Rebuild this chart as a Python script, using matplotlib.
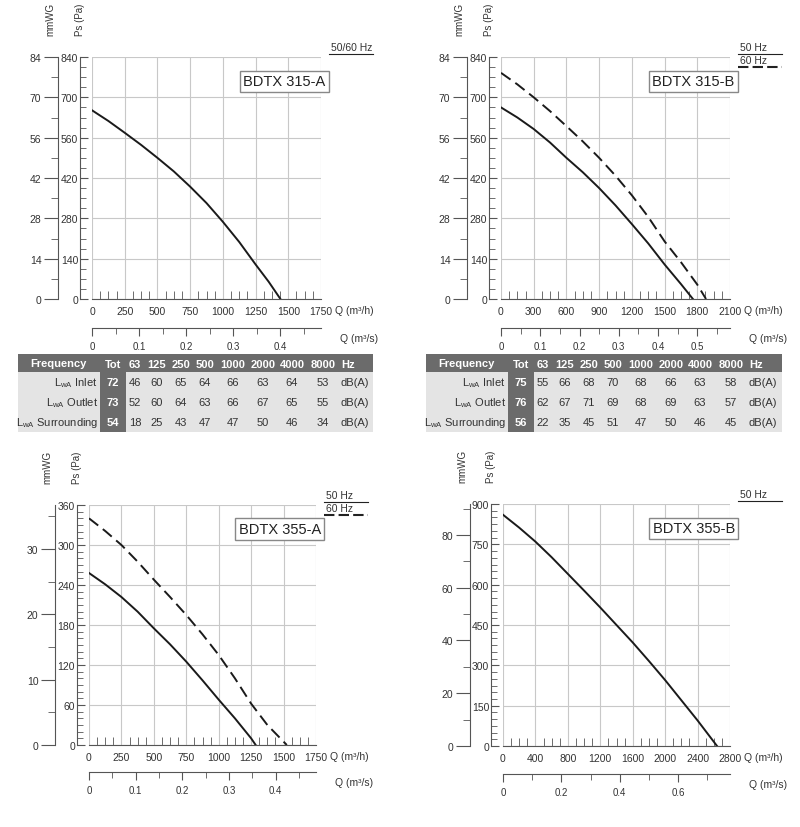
import matplotlib
matplotlib.use("Agg")
import matplotlib.pyplot as plt
from matplotlib.patches import Rectangle
from matplotlib.ticker import MultipleLocator

# ---------------- data ----------------
q_315a = [0, 125, 250, 375, 500, 625, 750, 875, 1000, 1125, 1250, 1350, 1440]
p_315a = [655, 618, 577, 535, 490, 443, 390, 333, 268, 198, 120, 60, 0]

q_315b_50 = [0, 150, 300, 450, 600, 750, 900, 1050, 1200, 1350, 1500, 1650, 1760]
p_315b_50 = [665, 630, 590, 543, 490, 440, 385, 325, 260, 193, 120, 52, 0]
q_315b_60 = [0, 150, 300, 450, 600, 750, 900, 1050, 1200, 1350, 1500, 1650, 1800, 1880]
p_315b_60 = [785, 745, 700, 652, 600, 547, 490, 428, 360, 285, 200, 128, 50, 0]

q_355a_50 = [0, 125, 250, 375, 500, 625, 750, 875, 1000, 1125, 1250, 1285]
p_355a_50 = [258, 241, 222, 200, 175, 151, 125, 97, 68, 40, 10, 0]
q_355a_60 = [0, 125, 250, 375, 500, 625, 750, 875, 1000, 1125, 1250, 1375, 1525]
p_355a_60 = [340, 321, 300, 275, 248, 222, 195, 166, 135, 100, 62, 30, 0]

q_355b = [0, 200, 400, 600, 800, 1000, 1200, 1400, 1600, 1800, 2000, 2200, 2400, 2640]
p_355b = [860, 812, 760, 702, 640, 578, 515, 450, 385, 316, 245, 170, 95, 0]

freq_cols = ["Tot", "63", "125", "250", "500", "1000", "2000", "4000", "8000", "Hz"]
row_labels = ["Inlet", "Outlet", "Surrounding"]
tbl_315a = [[72, 46, 60, 65, 64, 66, 63, 64, 53],
            [73, 52, 60, 64, 63, 66, 67, 65, 55],
            [54, 18, 25, 43, 47, 47, 50, 46, 34]]
tbl_315b = [[75, 55, 66, 68, 70, 68, 66, 63, 58],
            [76, 62, 67, 71, 69, 68, 69, 63, 57],
            [56, 22, 35, 45, 51, 47, 50, 46, 45]]

W, H = 800, 828
fig = plt.figure(figsize=(W / 100, H / 100), dpi=100)
plt.rcParams['font.family'] = ['Liberation Sans', 'DejaVu Sans']
TC = '#333333'


def rect(x0, y0, x1, y1):
    return [x0 / W, 1 - y1 / H, (x1 - x0) / W, (y1 - y0) / H]


def panel(x0, x1, y0, y1, xmax, xstep, xminor, pmax, pstep, pminor,
          mmax, mticks, mminor, qsmax, qsstep, qsminor, curves, title,
          legend, mm_x, pa_off, qs_y):
    ax = fig.add_axes(rect(x0, y0, x1, y1))
    for q, p, ls in curves:
        if ls == '--':
            ax.plot(q, p, color='#1a1a1a', lw=1.4, ls='--', dashes=(6, 3))
        else:
            ax.plot(q, p, color='#1a1a1a', lw=1.4)
    ax.set_xlim(0, xmax)
    ax.set_ylim(0, pmax)
    ax.xaxis.set_major_locator(MultipleLocator(xstep))
    ax.xaxis.set_minor_locator(MultipleLocator(xminor))
    ax.yaxis.set_major_locator(MultipleLocator(pstep))
    ax.yaxis.set_minor_locator(MultipleLocator(pminor))
    ax.grid(True, which='major', color='#c8c8c8', lw=0.8)
    ax.set_axisbelow(True)
    for s in ['top', 'right']:
        ax.spines[s].set_visible(False)
    ax.spines['left'].set_position(('outward', pa_off))
    for s in ['left', 'bottom']:
        ax.spines[s].set_color('#555555')
    ax.tick_params(axis='both', which='both', direction='in', colors='#555555',
                   labelcolor=TC, labelsize=7.5)
    ax.tick_params(axis='y', which='major', length=6, pad=1)
    ax.tick_params(axis='y', which='minor', length=4)
    ax.tick_params(axis='x', which='major', length=0, pad=5)
    ax.tick_params(axis='x', which='minor', length=6)
    ax.text(1.0 + 14 / (x1 - x0), -0.045, 'Q (m³/h)', transform=ax.transAxes, fontsize=7.5,
            color=TC, va='center', ha='left')
    ax.text(-pa_off / (x1 - x0) - 0.015, 1.09, 'Ps (Pa)', transform=ax.transAxes,
            rotation=90, fontsize=7, color=TC, ha='center', va='bottom')
    ax.text(0.84, 0.9, title, transform=ax.transAxes, fontsize=10.5, color='#222',
            ha='center', va='center',
            bbox=dict(boxstyle='square,pad=0.25', fc='white', ec='#888', lw=1))
    for i, (lab, ls) in enumerate(legend):
        yy = y0 - 2 + i * 13
        fig.text((x1 + 10) / W, 1 - (yy - 3) / H, lab, fontsize=7.5, color=TC,
                 ha='left', va='bottom')
        if ls == '--':
            fig.add_artist(plt.Line2D([(x1 + 8) / W, (x1 + 52) / W], [1 - (yy - 1) / H] * 2,
                                      color='#222', lw=1.5, ls='--', dashes=(5, 2)))
        else:
            fig.add_artist(plt.Line2D([(x1 + 8) / W, (x1 + 52) / W], [1 - (yy - 1) / H] * 2,
                                      color='#222', lw=0.8))
    am = fig.add_axes(rect(mm_x, y0, mm_x + 1, y1))
    am.set_ylim(0, mmax)
    am.set_xticks([])
    for s in ['top', 'right', 'bottom']:
        am.spines[s].set_visible(False)
    am.spines['left'].set_color('#555555')
    am.set_yticks(mticks)
    am.yaxis.set_minor_locator(MultipleLocator(mminor))
    am.tick_params(axis='y', which='both', direction='out', colors='#555555',
                   labelcolor=TC, labelsize=7.5)
    am.tick_params(axis='y', which='major', length=10, pad=2)
    am.tick_params(axis='y', which='minor', length=5)
    am.patch.set_visible(False)
    am.text(-8, 1.09, 'mmWG', transform=am.transAxes, rotation=90, fontsize=7,
            color=TC, ha='center', va='bottom')
    aq = fig.add_axes(rect(x0, qs_y, x1, qs_y + 1))
    aq.set_xlim(0, qsmax)
    aq.set_yticks([])
    for s in ['left', 'right', 'bottom']:
        aq.spines[s].set_visible(False)
    aq.spines['top'].set_color('#555555')
    aq.xaxis.set_major_locator(MultipleLocator(qsstep))
    aq.xaxis.set_minor_locator(MultipleLocator(qsminor))
    aq.tick_params(axis='x', which='both', direction='in', colors='#555555',
                   labelcolor=TC, labelsize=7, top=True, bottom=False,
                   labeltop=False, labelbottom=True)
    aq.tick_params(axis='x', which='major', length=6, pad=9)
    aq.tick_params(axis='x', which='minor', length=4)
    aq.xaxis.set_major_formatter(plt.FuncFormatter(lambda v, _: ('%g' % round(v, 2))))
    aq.patch.set_visible(False)
    aq.text(1.0 + 19 / (x1 - x0), -9, 'Q (m³/s)', transform=aq.transAxes, fontsize=7.5,
            color=TC, va='center', ha='left')
    return ax


def table(x0, x1, y0, data):
    hdr_h, row_h = 18, 20
    ta = fig.add_axes(rect(x0, y0, x1, y0 + hdr_h + 3 * row_h))
    ta.set_xlim(x0, x1)
    ta.set_ylim(y0 + hdr_h + 3 * row_h, y0)
    ta.axis('off')
    ta.add_patch(Rectangle((x0, y0), x1 - x0, hdr_h, fc='#6b6b6b', ec='none'))
    ta.add_patch(Rectangle((x0, y0 + hdr_h), x1 - x0, 3 * row_h, fc='#e4e4e4', ec='none'))
    tot_l = x0 + 82
    ta.add_patch(Rectangle((tot_l, y0 + hdr_h), 26, 3 * row_h, fc='#6b6b6b', ec='none'))
    colx = [x0 + 95, x0 + 117, x0 + 139, x0 + 163, x0 + 187, x0 + 215,
            x0 + 245, x0 + 274, x0 + 305]
    ta.text(x0 + 40, y0 + hdr_h / 2, 'Frequency', color='white', fontsize=8,
            fontweight='bold', ha='center', va='center')
    for cx, lab in zip(colx, freq_cols[:-1]):
        ta.text(cx, y0 + hdr_h / 2 + 1, lab, color='white', fontsize=8,
                fontweight='bold', ha='center', va='center')
    ta.text(x0 + 323, y0 + hdr_h / 2 + 1, freq_cols[-1], color='white', fontsize=8,
            fontweight='bold', ha='left', va='center')
    for r, (lab, vals) in enumerate(zip(row_labels, data)):
        yc = y0 + hdr_h + row_h * r + row_h / 2
        ta.text(tot_l - 2, yc, r'L$_{\mathregular{wA}}$ ' + lab, color=TC,
                fontsize=8, ha='right', va='center')
        for i, (cx, v) in enumerate(zip(colx, vals)):
            ta.text(cx, yc, str(v), color='white' if i == 0 else TC, fontsize=8,
                    fontweight='bold' if i == 0 else 'normal', ha='center', va='center')
        ta.text(x0 + 337, yc, 'dB(A)', color=TC, fontsize=8, ha='center', va='center')


panel(92, 321, 58, 300, 1750, 250, 62.5, 840, 140, 35, 84, [0, 14, 28, 42, 56, 70, 84], 7,
      1750 / 3600, 0.1, 0.05, [(q_315a, p_315a, '-')], 'BDTX 315-A',
      [('50/60 Hz', '-')], 58, 9, 329)
panel(501, 730, 58, 300, 2100, 300, 75, 840, 140, 35, 84, [0, 14, 28, 42, 56, 70, 84], 7,
      2100 / 3600, 0.1, 0.05,
      [(q_315b_50, p_315b_50, '-'), (q_315b_60, p_315b_60, '--')], 'BDTX 315-B',
      [('50 Hz', '-'), ('60 Hz', '--')], 467, 9, 329)
panel(89, 316, 506, 746, 1750, 250, 62.5, 360, 60, 10, 360 / 9.81, [0, 10, 20, 30], 5,
      1750 / 3600, 0.1, 0.05,
      [(q_355a_50, p_355a_50, '-'), (q_355a_60, p_355a_60, '--')], 'BDTX 355-A',
      [('50 Hz', '-'), ('60 Hz', '--')], 55, 9, 773)
panel(503, 730, 505, 747, 2800, 400, 100, 900, 150, 25, 900 / 9.81, [0, 20, 40, 60, 80], 10,
      2800 / 3600, 0.2, 0.1, [(q_355b, p_355b, '-')], 'BDTX 355-B',
      [('50 Hz', '-')], 470, 9, 775)

table(18, 373, 355, tbl_315a)
table(426, 782, 355, tbl_315b)

fig.savefig('out.png', dpi=100, facecolor='white')
